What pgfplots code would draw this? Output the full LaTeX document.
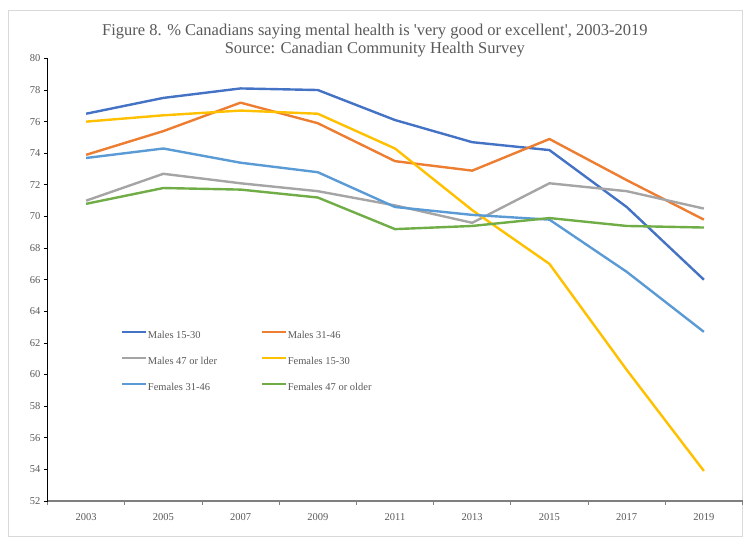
\documentclass[border=0pt]{standalone}
\usepackage{pgfplots}
\pgfplotsset{compat=1.18}
\usepackage{fontspec}
\setmainfont{Liberation Serif}
\definecolor{cA}{HTML}{4472C4}
\definecolor{cB}{HTML}{ED7D31}
\definecolor{cC}{HTML}{A5A5A5}
\definecolor{cD}{HTML}{FFC000}
\definecolor{cE}{HTML}{5B9BD5}
\definecolor{cF}{HTML}{70AD47}
\definecolor{txt}{HTML}{595959}
\definecolor{frame}{HTML}{D9D9D9}
\definecolor{xline}{HTML}{7F7F7F}
\begin{document}
\begin{tikzpicture}[x=1pt,y=1pt]
\path (0,0) rectangle (752,547);
\draw[frame, line width=0.9pt] (8.3,10.3) rectangle (742.5,537);
\begin{axis}[
  at={(47.5pt,46pt)}, anchor=south west,
  scale only axis, width=695pt, height=442.6pt,
  xmin=2002, xmax=2020, ymin=52, ymax=80,
  axis x line*=bottom, axis y line*=left,
  x axis line style={draw=xline, line width=1.1pt},
  y axis line style={draw=black, line width=0.8pt},
  xtick={2002,2004,...,2020},
  xticklabels={2003,2005,2007,2009,2011,2013,2015,2017,2019},
  x tick label as interval,
  xticklabel style={yshift=-5pt},
  ytick={52,54,...,80},
  tick align=outside, major tick length=3.5pt,
  xtick style={draw=xline, line width=0.8pt},
  ytick style={draw=black, line width=0.8pt},
  ticklabel style={font=\fontsize{10.5}{12}\selectfont, text=txt},
  /pgf/number format/assume math mode=true,
  /pgf/number format/1000 sep={},
  title={Figure 8. \% Canadians saying mental health is \textquotesingle very good or excellent\textquotesingle, 2003-2019\\Source: Canadian Community Health Survey},
  title style={align=center, font=\fontsize{16.5}{18}\selectfont, text=txt, at={(0.471,1)}, anchor=south, yshift=-8pt},
  legend columns=2,
  legend cell align=left,
  legend style={at={(0.1055,0.4037)}, anchor=north west, draw=none, fill=none, inner sep=0pt,
    column sep=0pt,
    nodes={font=\fontsize{10.5}{12}\selectfont, text=txt, inner xsep=1pt, inner ysep=7.75pt, text height=8pt, text depth=2.5pt}},
  legend image code/.code={\draw[#1, line width=2.4pt] (0pt,3.3pt) -- (23.5pt,3.3pt);},
  every axis plot/.append style={line width=2.4pt, line join=round},
]
\addplot[cA] coordinates {(2003,76.5) (2005,77.5) (2007,78.1) (2009,78.0) (2011,76.1) (2013,74.7) (2015,74.2) (2017,70.6) (2019,66.0)};
\addlegendentry{\makebox[112pt][l]{Males 15-30}}
\addplot[cB] coordinates {(2003,73.9) (2005,75.4) (2007,77.2) (2009,75.9) (2011,73.5) (2013,72.9) (2015,74.9) (2017,72.3) (2019,69.8)};
\addlegendentry{Males 31-46}
\addplot[cC] coordinates {(2003,71.0) (2005,72.7) (2007,72.1) (2009,71.6) (2011,70.7) (2013,69.6) (2015,72.1) (2017,71.6) (2019,70.5)};
\addlegendentry{\makebox[112pt][l]{Males 47 or lder}}
\addplot[cD] coordinates {(2003,76.0) (2005,76.4) (2007,76.7) (2009,76.5) (2011,74.3) (2013,70.4) (2015,67.0) (2017,60.3) (2019,53.9)};
\addlegendentry{Females 15-30}
\addplot[cE] coordinates {(2003,73.7) (2005,74.3) (2007,73.4) (2009,72.8) (2011,70.6) (2013,70.1) (2015,69.8) (2017,66.5) (2019,62.7)};
\addlegendentry{\makebox[112pt][l]{Females 31-46}}
\addplot[cF] coordinates {(2003,70.8) (2005,71.8) (2007,71.7) (2009,71.2) (2011,69.2) (2013,69.4) (2015,69.9) (2017,69.4) (2019,69.3)};
\addlegendentry{Females 47 or older}
\end{axis}
\end{tikzpicture}
\end{document}
